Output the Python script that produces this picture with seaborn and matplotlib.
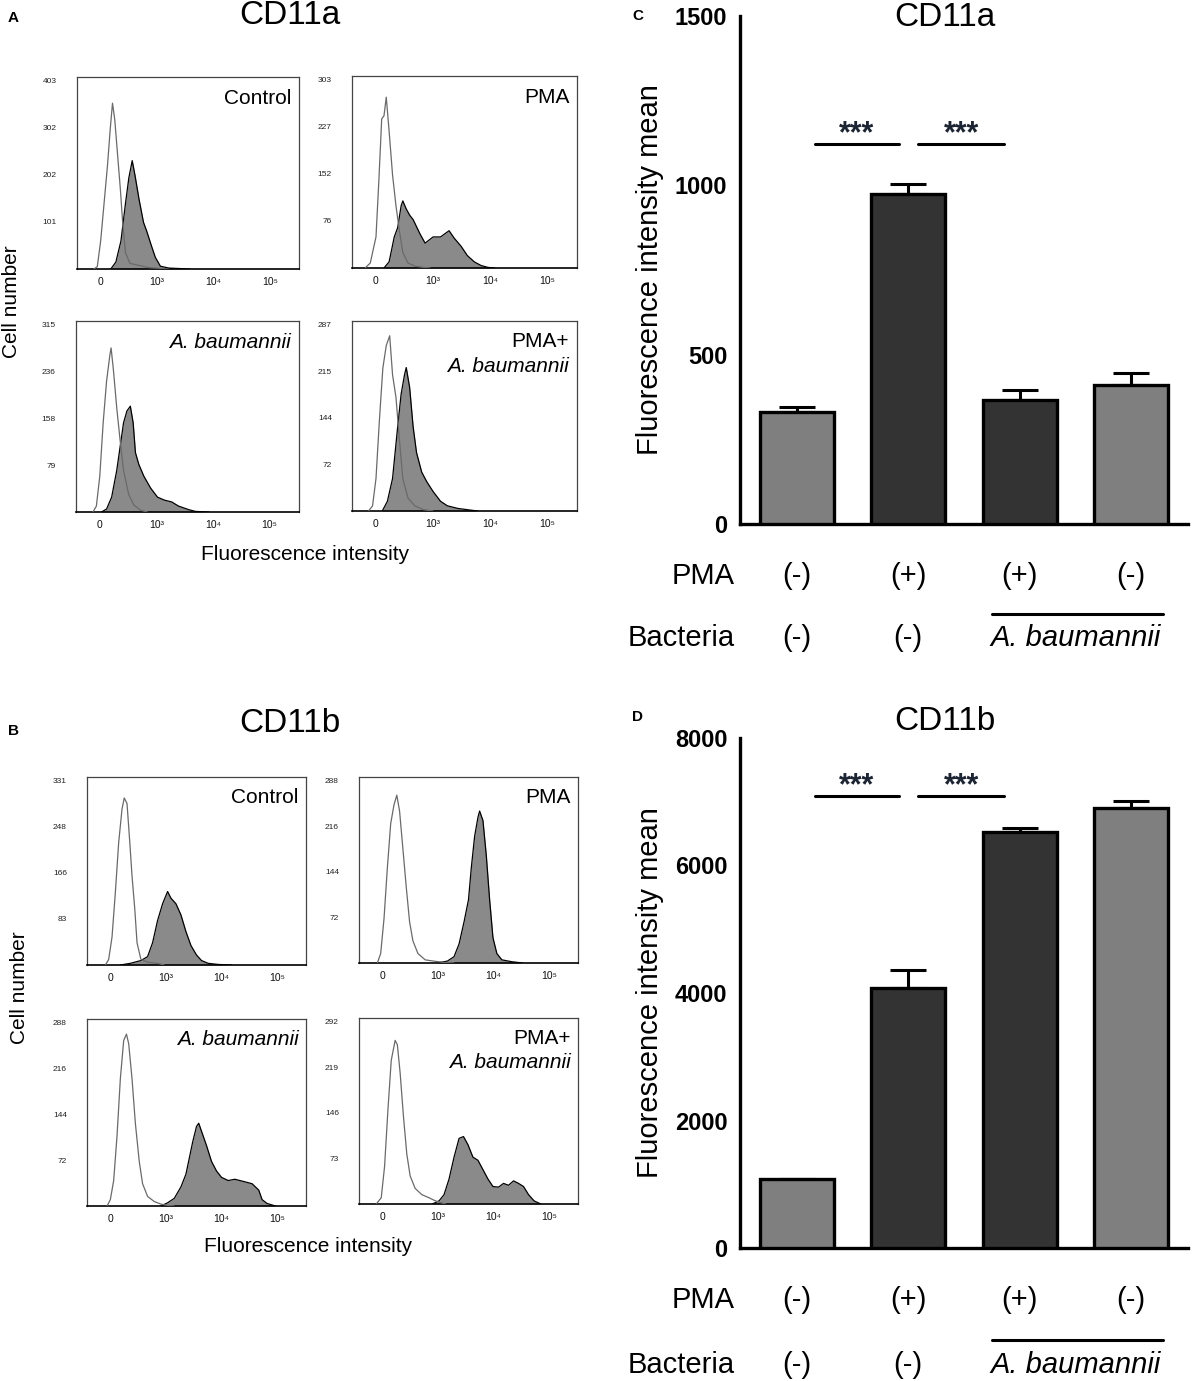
import numpy as np
import matplotlib
matplotlib.use("Agg")
import matplotlib.pyplot as plt
import seaborn as sns

# ---------------- bar charts (C, D) ----------------
bar_groups = ["ctrl", "pma", "pma_ab", "ab"]
pma_row = ["(-)", "(+)", "(+)", "(-)"]
bact_row = ["(-)", "(-)"]
cd11a_mean = [332, 974, 366, 409]
cd11a_sem = [12, 31, 30, 38]
cd11b_mean = [1076, 4085, 6522, 6896]
cd11b_sem = [14, 280, 61, 116]
cd11a_yticks = [0, 500, 1000, 1500]
cd11b_yticks = [0, 2000, 4000, 6000, 8000]
bar_palette = ["#7f7f7f", "#333333", "#333333", "#7f7f7f"]

# ---------------- flow histograms (x in display decades: 0, 10^3, 10^4, 10^5 -> 0..3) ----------------
hist_xtick_labels = ["0", "10³", "10⁴", "10⁵"]

# CD11a control
a1_open_x = [-0.12, -0.06, 0.0, 0.06, 0.12, 0.17, 0.21, 0.25, 0.30, 0.35, 0.39, 0.44, 0.52, 0.67, 0.85, 1.09, 1.2]
a1_open_y = [0, 5, 60, 140, 220, 300, 355, 320, 245, 170, 100, 35, 12, 8, 3, 1, 0]
a1_fill_x = [0.18, 0.27, 0.36, 0.44, 0.50, 0.56, 0.61, 0.68, 0.76, 0.82, 0.90, 0.97, 1.06, 1.21, 1.58]
a1_fill_y = [0, 15, 60, 140, 195, 232, 200, 150, 100, 80, 50, 25, 6, 2, 0]
# CD11a PMA
a2_open_x = [-0.19, -0.10, 0.0, 0.05, 0.10, 0.14, 0.18, 0.23, 0.29, 0.35, 0.41, 0.47, 0.56, 0.68, 0.83, 0.95]
a2_open_y = [0, 8, 50, 140, 240, 245, 275, 220, 150, 100, 60, 25, 8, 3, 1, 0]
a2_fill_x = [0.14, 0.23, 0.32, 0.38, 0.44, 0.47, 0.53, 0.59, 0.65, 0.77, 0.86, 1.0, 1.13, 1.28, 1.37, 1.49, 1.60, 1.72, 1.84, 1.96, 2.08]
a2_fill_y = [0, 10, 50, 65, 100, 108, 95, 85, 78, 55, 40, 50, 50, 60, 48, 35, 20, 10, 4, 1, 0]
# CD11a A. baumannii
a3_open_x = [-0.12, -0.06, 0.0, 0.06, 0.12, 0.18, 0.20, 0.24, 0.30, 0.36, 0.42, 0.51, 0.60, 0.72, 0.84]
a3_open_y = [0, 10, 60, 150, 220, 265, 276, 240, 175, 120, 70, 30, 12, 3, 0]
a3_fill_x = [0.03, 0.12, 0.21, 0.30, 0.36, 0.42, 0.48, 0.54, 0.59, 0.63, 0.69, 0.78, 0.90, 1.02, 1.14, 1.27, 1.39, 1.57, 1.69, 1.93]
a3_fill_y = [0, 5, 25, 70, 110, 150, 170, 178, 150, 100, 80, 60, 40, 25, 20, 17, 10, 4, 1, 0]
# CD11a PMA + A. baumannii
a4_open_x = [-0.13, -0.06, 0.0, 0.06, 0.12, 0.18, 0.24, 0.29, 0.35, 0.41, 0.47, 0.56, 0.68, 0.83, 1.0]
a4_open_y = [0, 8, 50, 140, 220, 255, 270, 210, 175, 110, 50, 20, 8, 2, 0]
a4_fill_x = [0.11, 0.20, 0.29, 0.38, 0.44, 0.50, 0.53, 0.59, 0.65, 0.71, 0.80, 0.89, 1.0, 1.13, 1.25, 1.43, 1.60, 1.78]
a4_fill_y = [0, 15, 50, 130, 180, 210, 221, 190, 130, 90, 60, 45, 30, 15, 8, 4, 2, 0]

# CD11b control
b1_open_x = [-0.09, -0.03, 0.03, 0.09, 0.15, 0.21, 0.25, 0.30, 0.35, 0.39, 0.44, 0.48, 0.55, 0.67, 0.85, 0.97]
b1_open_y = [0, 10, 50, 130, 220, 280, 300, 290, 220, 160, 100, 40, 10, 5, 3, 0]
b1_fill_x = [0.18, 0.36, 0.55, 0.67, 0.76, 0.85, 0.94, 1.03, 1.09, 1.18, 1.27, 1.36, 1.45, 1.55, 1.64, 1.76, 1.94, 2.18]
b1_fill_y = [0, 3, 8, 15, 40, 80, 110, 132, 120, 110, 90, 60, 35, 18, 8, 3, 1, 0]
# CD11b PMA
b2_open_x = [-0.09, -0.03, 0.03, 0.09, 0.15, 0.21, 0.26, 0.31, 0.37, 0.43, 0.49, 0.55, 0.64, 0.77, 0.92, 1.10, 1.29]
b2_open_y = [0, 15, 70, 150, 220, 250, 265, 240, 180, 120, 65, 35, 15, 5, 3, 1, 0]
b2_fill_x = [0.98, 1.17, 1.29, 1.38, 1.47, 1.55, 1.60, 1.66, 1.72, 1.75, 1.81, 1.87, 1.93, 1.99, 2.06, 2.15, 2.33, 2.52]
b2_fill_y = [0, 3, 10, 30, 65, 100, 150, 200, 230, 240, 225, 170, 100, 40, 15, 5, 2, 0]
# CD11b A. baumannii
b3_open_x = [-0.06, 0.0, 0.06, 0.12, 0.18, 0.24, 0.29, 0.33, 0.39, 0.45, 0.52, 0.58, 0.67, 0.79, 0.91, 1.03, 1.15]
b3_open_y = [0, 10, 40, 110, 200, 260, 270, 255, 200, 130, 70, 35, 15, 7, 3, 1, 0]
b3_fill_x = [0.91, 1.03, 1.15, 1.27, 1.36, 1.42, 1.48, 1.55, 1.59, 1.65, 1.73, 1.82, 1.91, 2.00, 2.12, 2.24, 2.42, 2.55, 2.67, 2.73, 2.82, 2.97]
b3_fill_y = [0, 5, 12, 30, 50, 75, 100, 125, 130, 115, 95, 70, 55, 45, 40, 42, 38, 35, 25, 10, 4, 0]
# CD11b PMA + A. baumannii
b4_open_x = [-0.11, -0.02, 0.04, 0.10, 0.16, 0.23, 0.27, 0.32, 0.38, 0.44, 0.50, 0.59, 0.71, 0.84, 0.93, 1.02, 1.14]
b4_open_y = [0, 10, 60, 150, 230, 262, 255, 210, 140, 80, 45, 25, 15, 10, 6, 3, 0]
b4_fill_x = [0.90, 1.02, 1.11, 1.20, 1.29, 1.38, 1.46, 1.54, 1.63, 1.72, 1.81, 1.90, 1.99, 2.09, 2.18, 2.27, 2.36, 2.45, 2.54, 2.63, 2.73, 2.85]
b4_fill_y = [0, 5, 15, 40, 75, 105, 108, 95, 75, 70, 55, 40, 28, 27, 33, 30, 37, 33, 28, 15, 5, 0]

a_yticks = [[101, 202, 302, 403], [76, 152, 227, 303], [79, 158, 236, 315], [72, 144, 215, 287]]
b_yticks = [[83, 166, 248, 331], [72, 144, 216, 288], [72, 144, 216, 288], [73, 146, 219, 292]]

W, H = 1192, 1381
sns.set_style("white")
plt.rcParams["font.family"] = ["Liberation Sans", "DejaVu Sans"]
plt.rcParams["text.color"] = "black"
plt.rcParams["axes.labelcolor"] = "black"
plt.rcParams["xtick.color"] = "black"
plt.rcParams["ytick.color"] = "black"

fig = plt.figure(figsize=(W / 100, H / 100), dpi=100)


def rect(l, t, r, b):
    return [l / W, 1 - b / H, (r - l) / W, (b - t) / H]


def fig_text(x, y, s, **kw):
    fig.text(x / W, 1 - y / H, s, **kw)


def hist_panel(box, ox, oy, fx, fy, yt, label1, label2=None, italic1=False):
    ax = fig.add_axes(rect(*box))
    ax.fill_between(fx, fy, 0, color="#8a8a8a", lw=0, zorder=2)
    sns.lineplot(x=fx, y=fy, ax=ax, color="#000000", lw=0.9, sort=False, estimator=None, zorder=3)
    sns.lineplot(x=ox, y=oy, ax=ax, color="#6a6a6a", lw=0.9, sort=False, estimator=None, zorder=4)
    ax.set_xlim(-0.42, 3.52)
    ax.set_ylim(0, yt[-1] * 1.02)
    ax.set_xticks([0, 1, 2, 3])
    ax.set_xticklabels(hist_xtick_labels, fontsize=7.5)
    minor = [-0.3, -0.15, 0.45] + [d + np.log10(k) for d in (1, 2, 3) for k in range(2, 10) if d + np.log10(k) < 3.5]
    ax.set_xticks(minor, minor=True)
    ax.set_yticks(yt)
    ax.set_yticklabels([str(v) for v in yt], fontsize=6)
    ax.tick_params(axis="x", which="major", direction="out", length=3, width=0.8, pad=3, colors="#111111")
    ax.tick_params(axis="x", which="minor", direction="out", length=2, width=0.6, colors="#111111")
    ax.tick_params(axis="y", direction="out", length=2.5, width=0.6, pad=12, colors="#222222")
    for s in ax.spines.values():
        s.set_color("#444444")
        s.set_linewidth(0.9)
    ax.spines["bottom"].set_color("#000000")
    ax.spines["bottom"].set_linewidth(1.2)
    ax.set_xlabel("")
    ax.set_ylabel("")
    ax.text(0.965, 0.89, label1, transform=ax.transAxes, ha="right", va="center",
            fontsize=15, style="italic" if italic1 else "normal")
    if label2:
        ax.text(0.965, 0.76, label2, transform=ax.transAxes, ha="right", va="center",
                fontsize=15, style="italic")
    return ax


# panel A
hist_panel((77, 77, 299, 269), a1_open_x, a1_open_y, a1_fill_x, a1_fill_y, a_yticks[0], "Control")
hist_panel((352, 76, 577, 268), a2_open_x, a2_open_y, a2_fill_x, a2_fill_y, a_yticks[1], "PMA")
hist_panel((76, 321, 299, 512), a3_open_x, a3_open_y, a3_fill_x, a3_fill_y, a_yticks[2], "A. baumannii", italic1=True)
hist_panel((352, 321, 577, 511), a4_open_x, a4_open_y, a4_fill_x, a4_fill_y, a_yticks[3], "PMA+", "A. baumannii")
# panel B
hist_panel((87, 777, 306, 965), b1_open_x, b1_open_y, b1_fill_x, b1_fill_y, b_yticks[0], "Control")
hist_panel((359, 777, 578, 963), b2_open_x, b2_open_y, b2_fill_x, b2_fill_y, b_yticks[1], "PMA")
hist_panel((87, 1019, 306, 1206), b3_open_x, b3_open_y, b3_fill_x, b3_fill_y, b_yticks[2], "A. baumannii", italic1=True)
hist_panel((359, 1018, 578, 1204), b4_open_x, b4_open_y, b4_fill_x, b4_fill_y, b_yticks[3], "PMA+", "A. baumannii")

fig_text(8, 18, "A", fontsize=11, fontweight="bold", ha="left", va="center")
fig_text(290, 16, "CD11a", fontsize=24, ha="center", va="center")
fig_text(12, 302, "Cell number", fontsize=15, rotation=90, ha="center", va="center")
fig_text(305, 555, "Fluorescence intensity", fontsize=15, ha="center", va="center")

fig_text(8, 731, "B", fontsize=11, fontweight="bold", ha="left", va="center")
fig_text(290, 724, "CD11b", fontsize=24, ha="center", va="center")
fig_text(20, 988, "Cell number", fontsize=15, rotation=90, ha="center", va="center")
fig_text(308, 1246, "Fluorescence intensity", fontsize=15, ha="center", va="center")


def bar_panel(box, means, sems, yticks, sig_y, star_y, pma_y, under_y, bact_y):
    ax = fig.add_axes(rect(*box))
    sns.barplot(x=bar_groups, y=means, hue=bar_groups, palette=bar_palette, legend=False,
                width=0.665, edgecolor="black", linewidth=2.4, ax=ax, zorder=3)
    ax.errorbar(range(len(means)), means, yerr=[[0] * len(sems), sems], fmt="none",
                ecolor="black", elinewidth=2.2, capsize=13, capthick=2.2, zorder=2)
    ax.set_xlim(-0.51, 3.51)
    ax.set_ylim(0, yticks[-1])
    ax.set_yticks(yticks)
    ax.set_yticklabels([str(v) for v in yticks], fontsize=17, fontweight="bold")
    ax.set_xticks(range(4))
    ax.set_xticklabels([])
    ax.tick_params(axis="y", direction="out", length=7, width=2.2, pad=2)
    ax.tick_params(axis="x", direction="out", length=7, width=2.2)
    sns.despine(ax=ax)
    ax.spines["left"].set_linewidth(2.4)
    ax.spines["bottom"].set_linewidth(2.4)
    ax.spines["left"].set_color("black")
    ax.spines["bottom"].set_color("black")
    ax.set_xlabel("")
    ax.set_ylabel("Fluorescence intensity mean", fontsize=21, labelpad=8)
    # significance bars
    ax.plot([0.16, 0.92], [sig_y, sig_y], color="black", lw=2.2, clip_on=False)
    ax.plot([1.09, 1.86], [sig_y, sig_y], color="black", lw=2.2, clip_on=False)
    ax.text(0.54, star_y, "***", ha="center", va="center", fontsize=22, fontweight="bold", color="#1c2533")
    ax.text(1.48, star_y, "***", ha="center", va="center", fontsize=22, fontweight="bold", color="#1c2533")
    # condition rows under axis
    tr = ax.get_xaxis_transform()
    ax.text(-0.56, pma_y, "PMA", transform=tr, ha="right", va="center", fontsize=21)
    for i, s in enumerate(pma_row):
        ax.text(i, pma_y, s, transform=tr, ha="center", va="center", fontsize=21)
    ax.text(-0.56, bact_y, "Bacteria", transform=tr, ha="right", va="center", fontsize=21)
    for i, s in enumerate(bact_row):
        ax.text(i, bact_y, s, transform=tr, ha="center", va="center", fontsize=21)
    ax.text(2.5, bact_y, "A. baumannii", transform=tr, ha="center", va="center", fontsize=21, style="italic")
    ax.plot([1.75, 3.29], [under_y, under_y], transform=tr, color="black", lw=2.2, clip_on=False)
    return ax


bar_panel((740, 16, 1188, 524), cd11a_mean, cd11a_sem, cd11a_yticks,
          1121, 1150, -0.102, -0.177, -0.224)
bar_panel((740, 738, 1188, 1248), cd11b_mean, cd11b_sem, cd11b_yticks,
          7087, 7240, -0.102, -0.180, -0.229)

fig_text(945, 17, "CD11a", fontsize=24, ha="center", va="center")
fig_text(945, 722, "CD11b", fontsize=24, ha="center", va="center")
fig_text(632, 16, "C", fontsize=11, fontweight="bold", ha="left", va="center")
fig_text(632, 717, "D", fontsize=11, fontweight="bold", ha="left", va="center")

fig.savefig("out.png", dpi=100)
